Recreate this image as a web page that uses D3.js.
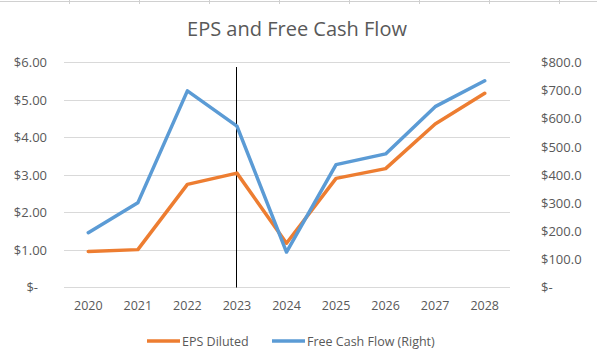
<!DOCTYPE html>
<html lang="en">
<head>
    <meta charset="utf-8">
    <title>EPS and Free Cash Flow</title>
    <script src="https://d3js.org/d3.v7.min.js"></script>
    <style>
        html, body { margin: 0; padding: 0; background: #fff; }
        text { font-family: "Open Sans", "Noto Sans", sans-serif; fill: #595959; }
        .grid line { stroke: #d9d9d9; stroke-width: 1px; shape-rendering: crispEdges; }
        path.line { fill: none; stroke-width: 3.5px; stroke-linejoin: round; stroke-linecap: round; }
    </style>
</head>
<body>
<script>
    var years = ["2020", "2021", "2022", "2023", "2024", "2025", "2026", "2027", "2028"];
    var epsDiluted = [0.96, 1.01, 2.75, 3.05, 1.18, 2.91, 3.17, 4.36, 5.18];
    var freeCashFlow = [195, 301, 699, 574, 126, 437, 475, 643, 735];
    var leftTicks = [0, 1, 2, 3, 4, 5, 6];
    var rightTicks = [0, 100, 200, 300, 400, 500, 600, 700, 800];
    var markerYear = "2023";

    var W = 597, H = 362;
    var plot = {left: 63.5, right: 509.5, top: 62.5, bottom: 287.5};

    var svg = d3.select("body").append("svg").attr("width", W).attr("height", H);

    // sheet border at top
    svg.append("line").attr("x1", 0).attr("x2", W).attr("y1", 1.5).attr("y2", 1.5)
        .attr("stroke", "#d0d0d0");
    [69, 139, 209, 279, 349, 419, 489, 559].forEach(function (x) {
        svg.append("line").attr("x1", x + 0.5).attr("x2", x + 0.5).attr("y1", 0).attr("y2", 4)
            .attr("stroke", "#d0d0d0");
    });

    var x = d3.scaleBand().domain(years).range([plot.left, plot.right]);
    var yL = d3.scaleLinear().domain([0, 6]).range([plot.bottom, plot.top]);
    var yR = d3.scaleLinear().domain([0, 800]).range([plot.bottom, plot.top]);
    var cx = function (d) { return x(d) + x.bandwidth() / 2; };

    svg.append("text").attr("x", 297).attr("y", 36).attr("text-anchor", "middle")
        .style("font-size", "20px").text("EPS and Free Cash Flow");

    // gridlines
    svg.append("g").attr("class", "grid").selectAll("line").data(leftTicks).enter().append("line")
        .attr("x1", plot.left).attr("x2", plot.right)
        .attr("y1", function (d) { return yL(d); }).attr("y2", function (d) { return yL(d); });

    var money2 = function (d) { return d === 0 ? "$-" : "$" + d3.format(".2f")(d); };
    var money1 = function (d) { return d === 0 ? "$-" : "$" + d3.format(".1f")(d); };

    var leftAxis = svg.append("g").attr("transform", "translate(47,0)")
        .call(d3.axisLeft(yL).tickValues(leftTicks).tickFormat(money2).tickSize(0).tickPadding(0));
    leftAxis.select(".domain").remove();
    leftAxis.selectAll("text").style("font-size", "13px").style("font-family", "Open Sans, sans-serif").attr("fill", "#595959");
    leftAxis.selectAll(".tick").filter(function (d) { return d === 0; }).select("text").attr("dx", -9);

    var rightAxis = svg.append("g").attr("transform", "translate(541,0)")
        .call(d3.axisRight(yR).tickValues(rightTicks).tickFormat(money1).tickSize(0).tickPadding(0));
    rightAxis.select(".domain").remove();
    rightAxis.selectAll("text").style("font-size", "13px").style("font-family", "Open Sans, sans-serif").attr("fill", "#595959");

    var xAxis = svg.append("g").attr("transform", "translate(0," + (plot.bottom + 14) + ")")
        .call(d3.axisBottom(x).tickSize(0).tickPadding(0));
    xAxis.select(".domain").remove();
    xAxis.selectAll("text").style("font-size", "12.5px").style("font-family", "Open Sans, sans-serif").attr("fill", "#595959");

    // marker line
    svg.append("line").attr("x1", Math.round(cx(markerYear)) - 0.5).attr("x2", Math.round(cx(markerYear)) - 0.5)
        .attr("y1", 67).attr("y2", plot.bottom).attr("stroke", "#000").attr("stroke-width", 1);

    var epsLine = d3.line().x(function (d, i) { return cx(years[i]); }).y(function (d) { return yL(d); });
    var fcfLine = d3.line().x(function (d, i) { return cx(years[i]); }).y(function (d) { return yR(d); });

    svg.append("path").attr("class", "line").attr("stroke", "#ED7D31").attr("d", epsLine(epsDiluted));
    svg.append("path").attr("class", "line").attr("stroke", "#5B9BD5").attr("d", fcfLine(freeCashFlow));

    // legend
    var legend = [
        {name: "EPS Diluted", color: "#ED7D31", x: 147},
        {name: "Free Cash Flow (Right)", color: "#5B9BD5", x: 272}
    ];
    var lg = svg.append("g").selectAll("g").data(legend).enter().append("g")
        .attr("transform", function (d) { return "translate(" + d.x + ",341)"; });
    lg.append("line").attr("x1", 0).attr("x2", 33).attr("y1", 0).attr("y2", 0)
        .attr("stroke", function (d) { return d.color; }).attr("stroke-width", 3.5);
    lg.append("text").attr("x", 35).attr("y", 4.5).style("font-size", "12.5px")
        .text(function (d) { return d.name; });
</script>
</body>
</html>
